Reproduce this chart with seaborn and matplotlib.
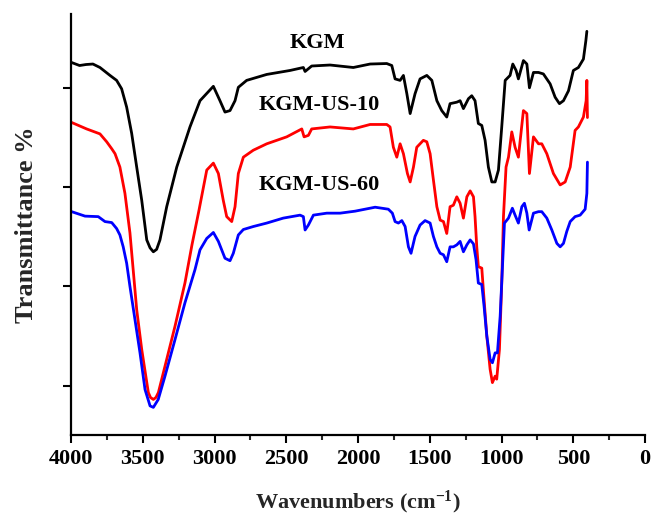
import numpy as np
import pandas as pd
import matplotlib
matplotlib.use("Agg")
import matplotlib.pyplot as plt
import seaborn as sns
from matplotlib.ticker import MultipleLocator

# ---- data (wavenumber in cm-1, transmittance in arbitrary %) ----
kgm_wn = [3995, 3940, 3895, 3847, 3798, 3728, 3682, 3647, 3612, 3577, 3542, 3507, 3472, 3449,
          3426, 3403, 3380, 3333, 3263, 3171, 3101, 3008, 2962, 2927, 2892, 2857, 2834, 2776,
          2636, 2474, 2381, 2369, 2323, 2195, 2033, 1916, 1800, 1765, 1742, 1707, 1684, 1660,
          1637, 1603, 1568, 1521, 1486, 1451, 1417, 1382, 1359, 1312, 1289, 1266, 1231, 1208,
          1185, 1162, 1138, 1115, 1092, 1068, 1045, 1022, 999, 975, 941, 922, 899, 883, 848, 824,
          806, 778, 743, 709, 662, 627, 597, 569, 534, 500, 465, 430, 413, 406]
kgm_t = [75.2, 74.6, 74.8, 74.9, 74.2, 72.6, 71.6, 69.9, 66.2, 60.9, 54.1, 47.4, 39.4, 37.8,
         37.0, 37.5, 39.4, 46.1, 54.1, 62.2, 67.5, 70.4, 67.5, 65.2, 65.5, 67.5, 70.2, 71.6,
         72.8, 73.6, 74.2, 73.4, 74.5, 74.7, 74.2, 74.9, 75.0, 74.6, 71.9, 71.6, 72.6, 68.9,
         64.9, 68.9, 71.9, 72.6, 71.6, 67.5, 65.5, 64.2, 66.9, 67.2, 67.5, 65.9, 67.9, 68.5,
         67.5, 62.9, 62.5, 59.5, 54.1, 51.1, 51.1, 53.5, 62.2, 71.6, 72.6, 74.9, 73.6, 71.9,
         75.6, 74.9, 70.1, 73.2, 73.2, 72.9, 70.9, 68.2, 66.9, 67.5, 69.5, 73.6, 74.2, 75.9,
         79.6, 81.5]

us10_wn = [3995, 3891, 3798, 3751, 3716, 3693, 3659, 3624, 3589, 3542, 3507, 3461, 3446, 3426,
           3408, 3391, 3345, 3275, 3206, 3157, 3108, 3054, 3008, 2973, 2939, 2915, 2880, 2857,
           2834, 2799, 2730, 2636, 2497, 2392, 2376, 2346, 2323, 2195, 2033, 1916, 1800, 1777,
           1754, 1730, 1707, 1684, 1656, 1637, 1614, 1591, 1545, 1521, 1498, 1475, 1451, 1428,
           1405, 1382, 1359, 1336, 1312, 1289, 1266, 1242, 1219, 1196, 1185, 1173, 1162, 1138,
           1127, 1103, 1080, 1064, 1045, 1034, 1015, 999, 987, 969, 952, 929, 906, 883, 848, 824,
           806, 778, 743, 720, 685, 639, 592, 557, 522, 488, 465, 430, 411, 406, 402]
us10_t = [63.1, 61.8, 60.8, 59.2, 57.8, 56.8, 54.1, 48.8, 40.8, 25.3, 17.3, 8.6, 7.6, 7.2,
          7.6, 8.6, 13.9, 22.0, 30.7, 38.4, 45.4, 53.5, 54.9, 52.8, 47.4, 44.1, 43.1, 46.1,
          52.8, 56.1, 57.5, 58.8, 60.2, 61.8, 60.2, 60.5, 61.8, 62.2, 61.8, 62.7, 62.7, 62.2,
          58.1, 56.1, 58.8, 56.8, 52.8, 51.1, 54.1, 58.1, 59.5, 59.2, 56.8, 51.5, 46.1, 43.4,
          43.1, 40.7, 46.1, 46.4, 48.1, 46.8, 43.8, 48.1, 49.3, 48.1, 44.1, 38.0, 34.0, 33.7,
          29.3, 20.0, 13.3, 10.6, 11.9, 11.3, 17.3, 30.7, 44.1, 54.1, 56.1, 61.2, 58.1, 56.1,
          65.5, 64.9, 52.8, 60.2, 58.8, 58.8, 56.8, 52.8, 50.5, 51.1, 54.1, 61.5, 62.2, 64.2,
          67.5, 71.6, 64.1]

us60_wn = [3995, 3902, 3810, 3763, 3716, 3682, 3659, 3636, 3612, 3589, 3554, 3519, 3484, 3449,
           3426, 3392, 3345, 3275, 3206, 3136, 3101, 3054, 3008, 2973, 2950, 2927, 2892, 2869,
           2834, 2799, 2730, 2636, 2521, 2404, 2381, 2369, 2346, 2311, 2218, 2125, 2021, 1881,
           1789, 1761, 1742, 1719, 1695, 1672, 1649, 1631, 1603, 1568, 1533, 1498, 1475, 1451,
           1428, 1405, 1382, 1359, 1336, 1312, 1289, 1266, 1242, 1219, 1196, 1178, 1162, 1138,
           1122, 1103, 1080, 1064, 1045, 1029, 1010, 994, 980, 952, 925, 906, 883, 859, 841, 824,
           808, 778, 743, 720, 685, 650, 615, 592, 569, 546, 522, 488, 453, 418, 406, 402]
us60_t = [45.1, 44.2, 44.1, 43.1, 42.9, 41.7, 40.4, 38.0, 34.7, 30.0, 23.3, 16.6, 9.2, 5.9,
          5.6, 7.2, 11.9, 19.3, 26.7, 33.4, 37.4, 39.7, 40.9, 39.1, 37.4, 35.7, 35.2, 36.7,
          40.4, 41.5, 42.1, 42.8, 43.8, 44.4, 44.1, 41.4, 42.4, 44.4, 44.8, 44.8, 45.2, 46.0,
          45.6, 44.8, 43.1, 42.8, 43.3, 42.1, 38.0, 36.7, 40.1, 42.4, 43.3, 42.8, 40.1, 38.0,
          36.7, 36.4, 35.0, 38.0, 38.0, 38.4, 39.1, 37.0, 38.4, 39.4, 38.6, 35.4, 30.7, 30.4,
          26.0, 20.0, 15.3, 14.6, 16.6, 16.6, 24.0, 34.0, 42.8, 43.8, 45.8, 44.4, 42.8, 46.1,
          46.8, 44.8, 41.4, 44.8, 45.1, 45.1, 43.8, 41.4, 38.7, 38.0, 38.7, 41.1, 43.1, 44.1,
          44.4, 45.6, 48.8, 55.1]

series_names = ["KGM", "KGM-US-10", "KGM-US-60"]
series_colors = ["#000000", "#ff0000", "#0000ff"]
x_ticks = [4000, 3500, 3000, 2500, 2000, 1500, 1000, 500, 0]

frames = []
for name, wn, t in zip(series_names, [kgm_wn, us10_wn, us60_wn], [kgm_t, us10_t, us60_t]):
    frames.append(pd.DataFrame({"wn": wn, "T": t, "sample": name}))
df = pd.concat(frames, ignore_index=True)

sns.set_theme(style="ticks")
plt.rcParams["font.family"] = ["Liberation Serif", "DejaVu Serif"]
plt.rcParams["font.weight"] = "bold"
plt.rcParams["mathtext.fontset"] = "custom"
plt.rcParams["mathtext.rm"] = "Liberation Serif:bold"
plt.rcParams["mathtext.bf"] = "Liberation Serif:bold"
plt.rcParams["mathtext.it"] = "Liberation Serif:bold"
plt.rcParams["lines.solid_joinstyle"] = "round"

fig = plt.figure(figsize=(6.51, 5.18), dpi=100)
ax = fig.add_axes([0.109, 0.160, 0.882, 0.813])

sns.lineplot(data=df, x="wn", y="T", hue="sample", palette=dict(zip(series_names, series_colors)),
             sort=False, estimator=None, linewidth=2.0, legend=False, ax=ax)

ax.set_xlim(4000, 0)
ax.set_ylim(0, 85)
ax.set_xticks(x_ticks)
ax.set_xticklabels([str(v) for v in x_ticks], fontsize=16, fontweight="bold")
ax.xaxis.set_minor_locator(MultipleLocator(250))
ax.set_yticks([10, 30, 50, 70])
ax.set_yticklabels([])
ax.tick_params(axis="both", which="major", direction="out", length=6, width=1.5, colors="black")
ax.tick_params(axis="x", which="minor", direction="out", length=3.5, width=1.5)
ax.tick_params(axis="x", pad=4)

for side in ["top", "right"]:
    ax.spines[side].set_visible(False)
for side in ["left", "bottom"]:
    ax.spines[side].set_linewidth(1.6)
    ax.spines[side].set_color("black")

ax.set_xlabel(r"Wavenumbers (cm$^{\mathbf{-1}}$)", fontsize=16, fontweight="bold", labelpad=14)
ax.set_ylabel("Transmittance %", fontsize=19, fontweight="bold", labelpad=14)

label_pos = [(2282, 79.2), (2272, 66.7), (2272, 50.5)]
for name, (lx, ly) in zip(series_names, label_pos):
    ax.text(lx, ly, name, fontsize=16, fontweight="bold", ha="center", va="center", color="black")

fig.savefig("out.png", dpi=100)
